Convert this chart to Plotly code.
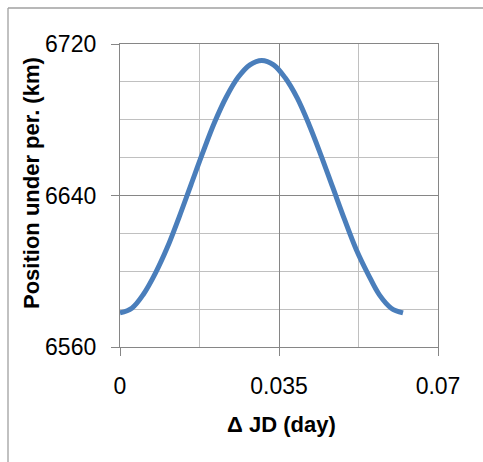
import plotly.graph_objects as go

delta_jd = [0, 0.0026, 0.0052, 0.0078, 0.0104, 0.013, 0.0156, 0.0182, 0.0208, 0.0234,
            0.026, 0.0286, 0.0312, 0.0338, 0.0364, 0.039, 0.0416, 0.0442, 0.0468, 0.0494,
            0.052, 0.0546, 0.0571, 0.0597, 0.0623]
position = [6578, 6580.5, 6588, 6599, 6612.5, 6628.5, 6645.5, 6662.5, 6678.5, 6692,
            6702.4, 6709, 6711.3, 6709, 6702, 6691.5, 6677.5, 6661.5, 6644.5, 6627.5,
            6611.5, 6598.5, 6587.5, 6580.5, 6578]

x_ticks = [0, 0.035, 0.07]
x_tick_labels = ["0", "0.035", "0.07"]
y_ticks = [6560, 6640, 6720]
y_tick_labels = ["6560", "6640", "6720"]

W, H = 483, 462
L, R, T, B = 120, 45, 44, 115
pw, ph = W - L - R, H - T - B

FONT = "Liberation Sans"
major = "#868686"
minor = "#c0c0c0"

fig = go.Figure()
fig.add_trace(go.Scatter(x=delta_jd, y=position, mode="lines",
                         line=dict(color="#4a7ebb", width=5, shape="spline", smoothing=1),
                         showlegend=False, hoverinfo="skip"))

fig.update_layout(
    width=W, height=H,
    margin=dict(l=L, r=R, t=T, b=B),
    paper_bgcolor="white", plot_bgcolor="white",
    font=dict(family=FONT, color="black", size=23),
    xaxis=dict(range=[0, 0.07], tickvals=x_ticks, ticktext=x_tick_labels,
               showgrid=True, gridcolor=major, gridwidth=1.3,
               minor=dict(dtick=0.0175, tick0=0, showgrid=True, gridcolor=minor, gridwidth=1.3),
               showline=True, linecolor=major, linewidth=1.3, mirror=True,
               ticks="outside", ticklen=8, tickcolor=major, tickwidth=1.3,
               ticklabelstandoff=10, zeroline=False,
               tickfont=dict(size=23, family=FONT)),
    yaxis=dict(range=[6560, 6720], tickvals=y_ticks, ticktext=y_tick_labels,
               showgrid=True, gridcolor=major, gridwidth=1.3,
               minor=dict(dtick=20, tick0=6560, showgrid=True, gridcolor=minor, gridwidth=1.3),
               showline=True, linecolor=major, linewidth=1.3, mirror=True,
               ticks="outside", ticklen=8, tickcolor=major, tickwidth=1.3,
               ticklabelstandoff=10, zeroline=False,
               tickfont=dict(size=23, family=FONT)),
)

def px_x(p):
    return (p - L) / pw

def px_y(p):
    return (H - B - p) / ph

fig.add_annotation(text="<b>Position under per. (km)</b>", xref="paper", yref="paper",
                   x=px_x(31), y=px_y(183), textangle=-90, showarrow=False,
                   font=dict(size=22, family=FONT), xanchor="center", yanchor="middle")
fig.add_annotation(text="<b>Δ JD (day)</b>", xref="paper", yref="paper",
                   x=px_x(281), y=px_y(424), showarrow=False,
                   font=dict(size=22, family=FONT), xanchor="center", yanchor="middle")

# outer chart border (left and top visible)
fig.add_shape(type="line", xref="paper", yref="paper",
              x0=px_x(8), x1=px_x(8), y0=px_y(8), y1=px_y(470),
              line=dict(color="#a0a0a0", width=1.3))
fig.add_shape(type="line", xref="paper", yref="paper",
              x0=px_x(8), x1=px_x(490), y0=px_y(8), y1=px_y(8),
              line=dict(color="#a0a0a0", width=1.3))

fig.write_html("out.html")
